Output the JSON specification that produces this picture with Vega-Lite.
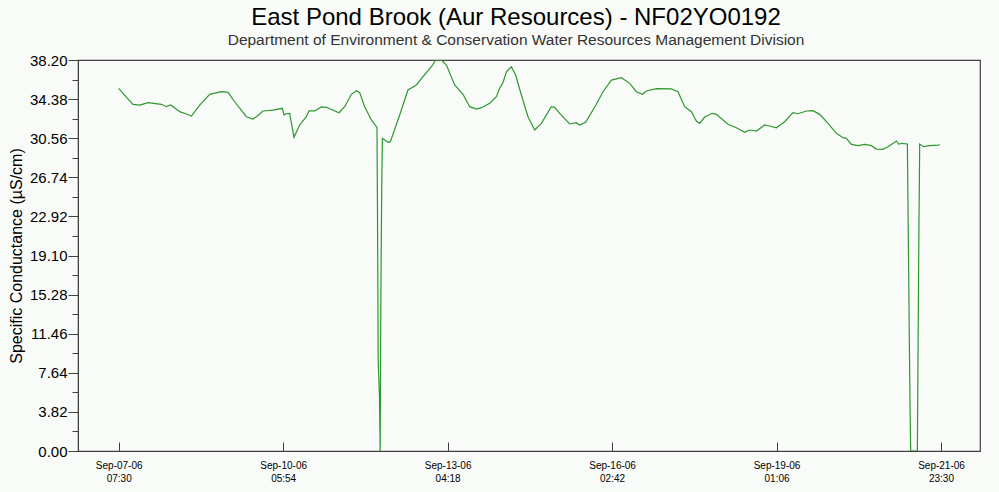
{
  "$schema": "https://vega.github.io/schema/vega-lite/v6.json",
  "width": 902,
  "height": 391,
  "autosize": {"type": "none"},
  "padding": {"left": 78, "top": 60, "right": 19, "bottom": 41},
  "background": "#f8fbf8",
  "config": {
    "view": {"stroke": "#404040", "strokeWidth": 1.2, "fill": "#f8fbf8"},
    "font": "Liberation Sans"
  },
  "title": {
    "text": "East Pond Brook (Aur Resources) - NF02YO0192",
    "subtitle": "Department of Environment & Conservation Water Resources Management Division",
    "font": "Liberation Sans",
    "fontSize": 24,
    "fontWeight": "normal",
    "color": "#000000",
    "subtitleFont": "Liberation Sans",
    "subtitleFontSize": 15.5,
    "subtitleColor": "#333333",
    "subtitlePadding": 3,
    "offset": 5,
    "anchor": "middle",
    "dx": -13
  },
  "data": {
    "values": [
      {"t": "2006-09-07T07:30", "v": 35.43},
      {"t": "2006-09-07T09:20", "v": 34.94},
      {"t": "2006-09-07T13:37", "v": 33.87},
      {"t": "2006-09-07T16:29", "v": 33.80},
      {"t": "2006-09-07T20:02", "v": 34.03},
      {"t": "2006-09-08T01:47", "v": 33.87},
      {"t": "2006-09-08T03:55", "v": 33.64},
      {"t": "2006-09-08T05:46", "v": 33.80},
      {"t": "2006-09-08T09:37", "v": 33.15},
      {"t": "2006-09-08T12:29", "v": 32.92},
      {"t": "2006-09-08T14:37", "v": 32.73},
      {"t": "2006-09-08T18:10", "v": 33.80},
      {"t": "2006-09-08T22:27", "v": 34.85},
      {"t": "2006-09-09T03:28", "v": 35.10},
      {"t": "2006-09-09T06:17", "v": 35.04},
      {"t": "2006-09-09T09:09", "v": 34.12},
      {"t": "2006-09-09T14:10", "v": 32.66},
      {"t": "2006-09-09T16:59", "v": 32.43},
      {"t": "2006-09-09T18:26", "v": 32.66},
      {"t": "2006-09-09T21:16", "v": 33.22},
      {"t": "2006-09-10T01:33", "v": 33.31},
      {"t": "2006-09-10T05:34", "v": 33.48},
      {"t": "2006-09-10T06:16", "v": 32.82},
      {"t": "2006-09-10T06:59", "v": 32.95},
      {"t": "2006-09-10T08:42", "v": 32.99},
      {"t": "2006-09-10T10:32", "v": 30.65},
      {"t": "2006-09-10T12:59", "v": 31.85},
      {"t": "2006-09-10T15:51", "v": 32.66},
      {"t": "2006-09-10T16:58", "v": 33.22},
      {"t": "2006-09-10T19:24", "v": 33.22},
      {"t": "2006-09-10T22:16", "v": 33.61},
      {"t": "2006-09-11T00:25", "v": 33.58},
      {"t": "2006-09-11T05:48", "v": 33.05},
      {"t": "2006-09-11T08:14", "v": 33.64},
      {"t": "2006-09-11T11:07", "v": 34.85},
      {"t": "2006-09-11T13:15", "v": 35.20},
      {"t": "2006-09-11T14:40", "v": 35.01},
      {"t": "2006-09-11T16:48", "v": 33.64},
      {"t": "2006-09-11T19:40", "v": 32.34},
      {"t": "2006-09-11T22:04", "v": 31.62},
      {"t": "2006-09-11T22:17", "v": 23.5},
      {"t": "2006-09-11T22:35", "v": 8.9},
      {"t": "2006-09-11T23:08", "v": 5.3},
      {"t": "2006-09-11T23:26", "v": 0},
      {"t": "2006-09-11T23:44", "v": 15.4},
      {"t": "2006-09-12T00:05", "v": 25.5},
      {"t": "2006-09-12T00:23", "v": 30.55},
      {"t": "2006-09-12T02:47", "v": 30.16},
      {"t": "2006-09-12T03:48", "v": 30.22},
      {"t": "2006-09-12T07:47", "v": 32.82},
      {"t": "2006-09-12T11:20", "v": 35.27},
      {"t": "2006-09-12T14:56", "v": 35.76},
      {"t": "2006-09-12T17:46", "v": 36.57},
      {"t": "2006-09-12T21:22", "v": 37.54},
      {"t": "2006-09-12T23:12", "v": 38.20},
      {"t": "2006-09-13T01:38", "v": 38.20},
      {"t": "2006-09-13T03:47", "v": 37.71},
      {"t": "2006-09-13T07:20", "v": 35.76},
      {"t": "2006-09-13T10:53", "v": 34.85},
      {"t": "2006-09-13T13:45", "v": 33.64},
      {"t": "2006-09-13T16:37", "v": 33.41},
      {"t": "2006-09-13T18:46", "v": 33.54},
      {"t": "2006-09-13T22:19", "v": 33.97},
      {"t": "2006-09-14T01:11", "v": 34.61},
      {"t": "2006-09-14T02:35", "v": 35.43},
      {"t": "2006-09-14T04:01", "v": 36.00},
      {"t": "2006-09-14T05:28", "v": 37.05},
      {"t": "2006-09-14T07:36", "v": 37.54},
      {"t": "2006-09-14T09:26", "v": 36.73},
      {"t": "2006-09-14T11:53", "v": 34.78},
      {"t": "2006-09-14T14:43", "v": 32.66},
      {"t": "2006-09-14T17:34", "v": 31.36},
      {"t": "2006-09-14T20:26", "v": 32.01},
      {"t": "2006-09-15T00:43", "v": 33.64},
      {"t": "2006-09-15T02:08", "v": 33.58},
      {"t": "2006-09-15T04:16", "v": 32.99},
      {"t": "2006-09-15T08:33", "v": 31.95},
      {"t": "2006-09-15T11:25", "v": 32.07},
      {"t": "2006-09-15T12:50", "v": 31.85},
      {"t": "2006-09-15T15:24", "v": 32.11},
      {"t": "2006-09-15T19:59", "v": 33.87},
      {"t": "2006-09-15T22:49", "v": 35.10},
      {"t": "2006-09-16T02:25", "v": 36.24},
      {"t": "2006-09-16T06:41", "v": 36.47},
      {"t": "2006-09-16T10:14", "v": 35.92},
      {"t": "2006-09-16T13:07", "v": 35.10},
      {"t": "2006-09-16T15:41", "v": 34.85},
      {"t": "2006-09-16T17:23", "v": 35.17},
      {"t": "2006-09-16T21:40", "v": 35.40},
      {"t": "2006-09-17T04:05", "v": 35.37},
      {"t": "2006-09-17T06:55", "v": 35.10},
      {"t": "2006-09-17T09:47", "v": 33.64},
      {"t": "2006-09-17T12:39", "v": 33.15},
      {"t": "2006-09-17T14:47", "v": 32.24},
      {"t": "2006-09-17T16:13", "v": 32.01},
      {"t": "2006-09-17T18:21", "v": 32.63},
      {"t": "2006-09-17T21:38", "v": 32.99},
      {"t": "2006-09-17T23:22", "v": 32.89},
      {"t": "2006-09-18T04:19", "v": 31.92},
      {"t": "2006-09-18T07:55", "v": 31.58},
      {"t": "2006-09-18T11:28", "v": 31.13},
      {"t": "2006-09-18T13:37", "v": 31.36},
      {"t": "2006-09-18T16:29", "v": 31.26},
      {"t": "2006-09-18T20:02", "v": 31.85},
      {"t": "2006-09-18T22:11", "v": 31.75},
      {"t": "2006-09-19T01:02", "v": 31.58},
      {"t": "2006-09-19T04:35", "v": 32.17},
      {"t": "2006-09-19T08:09", "v": 33.05},
      {"t": "2006-09-19T10:17", "v": 32.95},
      {"t": "2006-09-19T13:53", "v": 33.22},
      {"t": "2006-09-19T16:43", "v": 33.25},
      {"t": "2006-09-19T19:35", "v": 32.89},
      {"t": "2006-09-19T23:08", "v": 32.01},
      {"t": "2006-09-20T02:44", "v": 31.04},
      {"t": "2006-09-20T05:33", "v": 30.61},
      {"t": "2006-09-20T07:01", "v": 30.55},
      {"t": "2006-09-20T09:09", "v": 29.96},
      {"t": "2006-09-20T11:58", "v": 29.83},
      {"t": "2006-09-20T14:50", "v": 29.96},
      {"t": "2006-09-20T17:43", "v": 29.83},
      {"t": "2006-09-20T19:51", "v": 29.50},
      {"t": "2006-09-20T22:40", "v": 29.47},
      {"t": "2006-09-21T00:49", "v": 29.73},
      {"t": "2006-09-21T04:25", "v": 30.29},
      {"t": "2006-09-21T05:31", "v": 29.96},
      {"t": "2006-09-21T06:33", "v": 30.06},
      {"t": "2006-09-21T09:07", "v": 30.00},
      {"t": "2006-09-21T09:20", "v": 25.0},
      {"t": "2006-09-21T09:46", "v": 15.1},
      {"t": "2006-09-21T10:16", "v": 4.0},
      {"t": "2006-09-21T10:32", "v": 0},
      {"t": "2006-09-21T13:23", "v": 0},
      {"t": "2006-09-21T13:37", "v": 7.6},
      {"t": "2006-09-21T14:05", "v": 22.6},
      {"t": "2006-09-21T14:23", "v": 29.99},
      {"t": "2006-09-21T16:05", "v": 29.73},
      {"t": "2006-09-21T18:40", "v": 29.83},
      {"t": "2006-09-21T22:13", "v": 29.89},
      {"t": "2006-09-21T23:00", "v": 29.92}
    ]
  },
  "mark": {"type": "line", "color": "#2e982e", "strokeWidth": 1.2, "clip": true},
  "encoding": {
    "x": {
      "field": "t",
      "type": "temporal",
      "scale": {
        "domain": [
          {"year": 2006, "month": 9, "date": 6, "hours": 14, "minutes": 5},
          {"year": 2006, "month": 9, "date": 22, "hours": 16, "minutes": 12}
        ]
      },
      "axis": {
        "title": null,
        "values": [
          {"year": 2006, "month": 9, "date": 7, "hours": 7, "minutes": 30},
          {"year": 2006, "month": 9, "date": 10, "hours": 5, "minutes": 54},
          {"year": 2006, "month": 9, "date": 13, "hours": 4, "minutes": 18},
          {"year": 2006, "month": 9, "date": 16, "hours": 2, "minutes": 42},
          {"year": 2006, "month": 9, "date": 19, "hours": 1, "minutes": 6},
          {"year": 2006, "month": 9, "date": 21, "hours": 23, "minutes": 30}
        ],
        "labelExpr": "[timeFormat(datum.value, '%b-%d-%y'), timeFormat(datum.value, '%H:%M')]",
        "labelFont": "Liberation Sans",
        "labelFontSize": 10,
        "labelLineHeight": 13,
        "labelColor": "#000000",
        "labelPadding": 18,
        "labelOverlap": false,
        "labelFlush": false,
        "tickSize": -9,
        "tickColor": "#404040",
        "domainColor": "#404040",
        "grid": false
      }
    },
    "y": {
      "field": "v",
      "type": "quantitative",
      "scale": {"domain": [0, 38.2], "nice": false, "zero": true},
      "axis": {
        "title": "Specific Conductance (µS/cm)",
        "titleFont": "Liberation Sans",
        "titleFontSize": 16,
        "titleFontWeight": "normal",
        "titleColor": "#000000",
        "titlePadding": 5,
        "values": [0, 1.91, 3.82, 5.73, 7.64, 9.55, 11.46, 13.37, 15.28, 17.19, 19.1, 21.01, 22.92, 24.83, 26.74, 28.65, 30.56, 32.47, 34.38, 36.29, 38.2],
        "labelExpr": "abs(datum.value/3.82 - round(datum.value/3.82)) < 0.01 ? format(datum.value, '.2f') : ''",
        "labelFont": "Liberation Sans",
        "labelFontSize": 15,
        "labelColor": "#000000",
        "labelPadding": 1,
        "labelOverlap": false,
        "labelFlush": false,
        "tickSize": {"condition": {"test": "abs(datum.value/3.82 - round(datum.value/3.82)) < 0.01", "value": 10}, "value": 6},
        "tickColor": "#404040",
        "domainColor": "#404040",
        "grid": false
      }
    }
  }
}
